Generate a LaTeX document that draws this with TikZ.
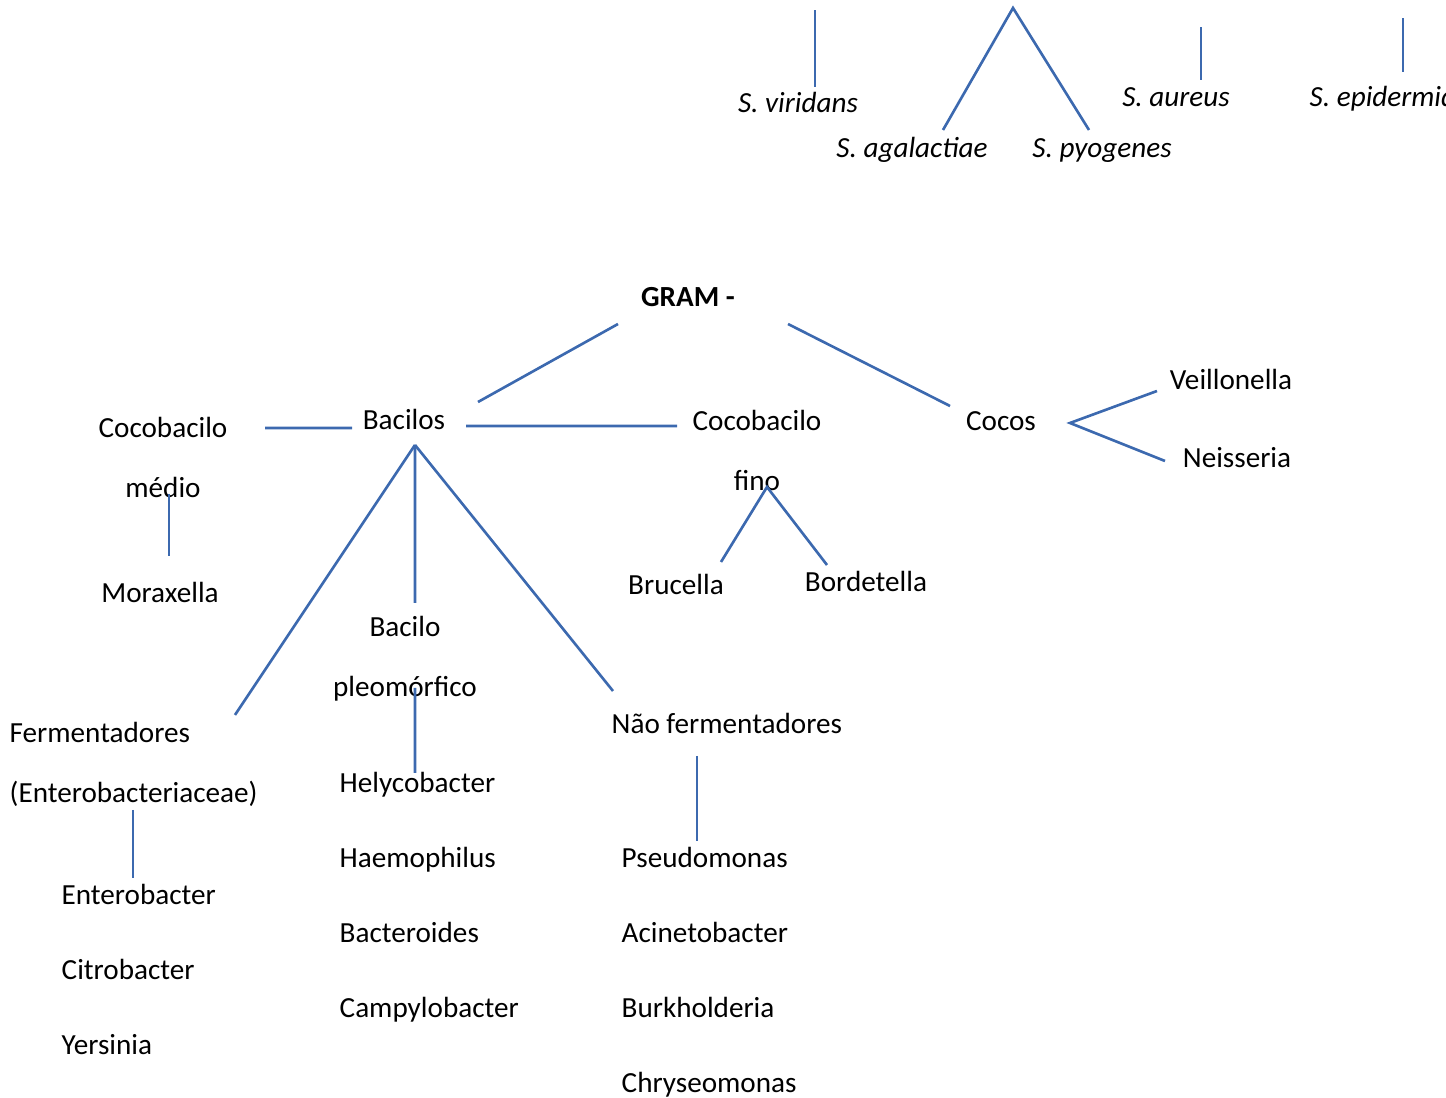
\documentclass[tikz,border=0pt]{standalone}
\usepackage{fontspec}
\setmainfont{Carlito}
\usetikzlibrary{positioning}
\definecolor{linkblue}{RGB}{60,105,175}
\newcommand\diagfont{\fontsize{8.3}{17.07}\selectfont}

\begin{document}
\begin{tikzpicture}[
      taxon/.style={inner sep=0pt, text height=2.2mm, text depth=0.7mm,
                    font=\diagfont},
      species/.style={taxon, font=\diagfont\itshape},
      group/.style={inner sep=0pt, align=center, font=\diagfont},
      item/.style={taxon, anchor=west},
      link/.style={draw=linkblue, line width=0.75pt},
    ]
    \useasboundingbox (0,0) rectangle (14.46,-10.98);

    % ---- streptococci / staphylococci (top) ------------------------
    \node[species] (viridans) at (7.98,-1.05) {S. viridans};
    \node[species] (agal) at (9.12,-1.50) {S. agalactiae};
    \node[species] (pyog) at (11.02,-1.50) {S. pyogenes};
    \node[species] (aureus) at (11.76,-0.99) {S. aureus};
    \node[species, anchor=west] (epid) at (13.09,-0.99) {S. epidermidis};
    \coordinate (strep) at (10.13,-0.08);

    % ---- gram negative root ----------------------------------------
    \node[taxon, font=\diagfont\bfseries] (gram) at (6.88,-2.99) {GRAM -};
    \node[taxon] (bacilos) at (4.04,-4.22) {Bacilos};
    \node[taxon] (cocos) at (10.01,-4.23) {Cocos};
    \node[taxon] (veill) at (12.31,-3.82) {Veillonella};
    \node[taxon] (neis) at (12.37,-4.60) {Neisseria};

    % ---- cocobacilos -----------------------------------------------
    \node[group] (cbmed) at (1.63,-4.57) {Cocobacilo\\médio};
    \node[taxon] (morax) at (1.60,-5.95) {Moraxella};
    \node[group] (cbfino) at (7.57,-4.50) {Cocobacilo\\fino};
    \node[taxon] (bruc) at (6.76,-5.87) {Brucella};
    \node[taxon] (bord) at (8.66,-5.84) {Bordetella};

    % ---- bacilos branches ------------------------------------------
    \node[group] (bpleo) at (4.05,-6.59) {Bacilo\\pleomórfico};
    \node[group, align=left, anchor=west] (ferm) at (0.09,-7.64)
      {Fermentadores\\(Enterobacteriaceae)};
    \node[item] (naof) at (6.11,-7.26) {Não fermentadores};

    % ---- genus lists -----------------------------------------------
    \node[item] (entero) at (0.61,-8.97) {Enterobacter};
    \node[item, below=4.45mm of entero.south west, anchor=north west] (citro) {Citrobacter};
    \node[item, below=4.45mm of citro.south west, anchor=north west] (yers) {Yersinia};

    \node[item] (hely) at (3.39,-7.85) {Helycobacter};
    \node[item, below=4.45mm of hely.south west, anchor=north west] (haemo) {Haemophilus};
    \node[item, below=4.45mm of haemo.south west, anchor=north west] (bactero) {Bacteroides};
    \node[item, below=4.45mm of bactero.south west, anchor=north west] (campy) {Campylobacter};

    \node[item] (pseudo) at (6.21,-8.60) {Pseudomonas};
    \node[item, below=4.45mm of pseudo.south west, anchor=north west] (acineto) {Acinetobacter};
    \node[item, below=4.45mm of acineto.south west, anchor=north west] (burk) {Burkholderia};
    \node[item, below=4.45mm of burk.south west, anchor=north west] (chryseo) {Chryseomonas};

    % ---- top connectors --------------------------------------------
    \draw[link] ([shift={(0.17,0.18)}]viridans.center) -- ++(0,0.77);
    \draw[link] ([shift={(0.31,0.20)}]agal.center) -- (strep)
      -- ([shift={(-0.13,0.20)}]pyog.center);
    \draw[link] ([shift={(0.25,0.19)}]aureus.center) -- ++(0,0.53);
    \draw[link] ([shift={(0.94,0.27)}]epid.west) -- ++(0,0.54);

    % ---- gram negative connectors ----------------------------------
    \draw[link] ([shift={(-0.70,-0.25)}]gram.center)
      -- ([shift={(0.74,0.20)}]bacilos.center);
    \draw[link] ([shift={(1.00,-0.25)}]gram.center)
      -- ([shift={(-0.51,0.17)}]cocos.center);
    \draw[link] ([shift={(-0.74,-0.09)}]veill.center)
      -- ([shift={(0.69,0.00)}]cocos.center)
      -- ([shift={(-0.72,-0.01)}]neis.center);

    \draw[link] ([shift={(1.02,0.29)}]cbmed.center)
      -- ([shift={(-0.52,-0.06)}]bacilos.center);
    \draw[link] ([shift={(0.62,-0.04)}]bacilos.center)
      -- ([shift={(-0.80,0.24)}]cbfino.center);
    \draw[link] ([shift={(0.06,-0.37)}]cbmed.center)
      -- ([shift={(0.09,0.39)}]morax.center);
    \draw[link] ([shift={(0.45,0.25)}]bruc.center)
      -- ([shift={(0.10,-0.37)}]cbfino.center)
      -- ([shift={(-0.39,0.19)}]bord.center);

    % ---- bacilos fan -----------------------------------------------
    \draw[link] ([shift={(0.11,-0.23)}]bacilos.center)
      -- ([shift={(2.26,0.49)}]ferm.west);
    \draw[link] ([shift={(0.11,-0.23)}]bacilos.center)
      -- ([shift={(0.10,0.56)}]bpleo.center);
    \draw[link] ([shift={(0.11,-0.23)}]bacilos.center)
      -- ([shift={(0.02,0.35)}]naof.west);

    \draw[link] ([shift={(0.10,-0.29)}]bpleo.center)
      -- ([shift={(0.76,0.12)}]hely.west);
    \draw[link] ([shift={(1.24,-0.46)}]ferm.west)
      -- ([shift={(0.72,0.19)}]entero.west);
    \draw[link] ([shift={(0.86,-0.30)}]naof.west)
      -- ([shift={(0.76,0.19)}]pseudo.west);

  \end{tikzpicture}
\end{document}
